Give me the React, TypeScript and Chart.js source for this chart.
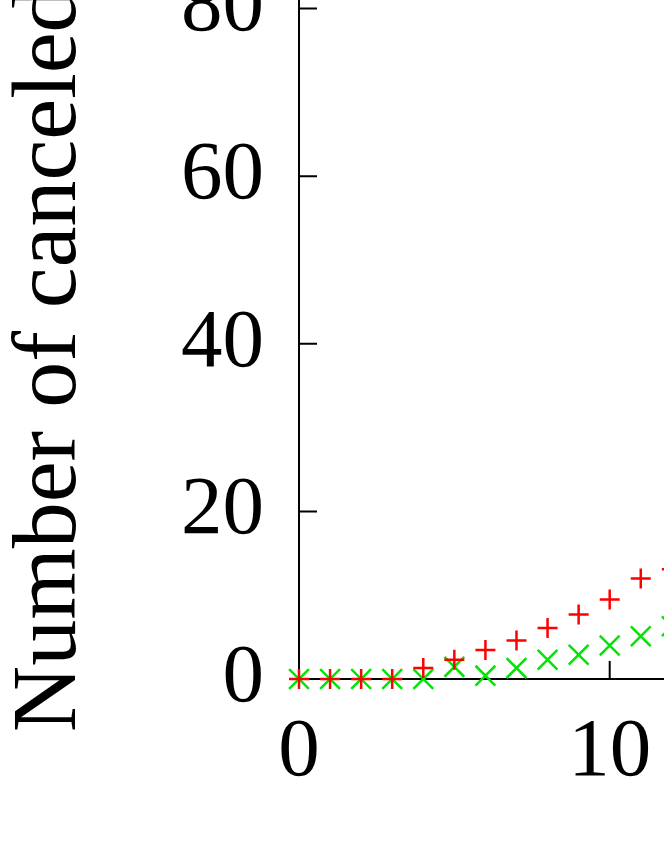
import React, { useEffect, useRef } from "react";
import { Chart, registerables } from "chart.js";

Chart.register(...registerables);

// ---- data ----
const xValues = [0, 1, 2, 3, 4, 5, 6, 7, 8, 9, 10, 11, 12];
const seriesA = [0, 0, 0, 0, 1.3, 2.3, 3.45, 4.6, 6.1, 7.7, 9.5, 12.0, 13.1];
const seriesB = [0, 0, 0, 0, 0, 1.45, 0.4, 1.3, 2.3, 2.9, 4.0, 5.1, 6.3];
const yTitle = "Number of canceled requests";
const xAxisMax = 30;
const yAxisMax = 115;
const xStep = 10;
const yStep = 20;

// ---- layout ----
const FONT = "'Liberation Serif', 'Times New Roman', serif";
const SHIFT_TOP = 340; // canvas is shifted up so the view is cropped like the reference
const CANVAS_W = 1300;
const CANVAS_H = SHIFT_TOP + 860;
const PLOT_LEFT = 299;
const PLOT_BOTTOM = 679;
const PX_PER_X = 31.07;
const PX_PER_Y = 8.38;
const TICK_LEN = 18;

const innerTicks = {
  id: "innerTicks",
  beforeDatasetsDraw(chart: any) {
    const { ctx, scales } = chart;
    const xs = scales.x;
    const ys = scales.y;
    ctx.save();
    ctx.strokeStyle = "#000";
    ctx.lineWidth = 2;
    ctx.beginPath();
    xs.ticks.forEach((t: any) => {
      const px = xs.getPixelForValue(t.value);
      ctx.moveTo(px, xs.top);
      ctx.lineTo(px, xs.top - TICK_LEN);
    });
    ys.ticks.forEach((t: any) => {
      const py = ys.getPixelForValue(t.value);
      ctx.moveTo(ys.right, py);
      ctx.lineTo(ys.right + TICK_LEN, py);
    });
    ctx.stroke();
    ctx.restore();
  },
};

export default function App() {
  const ref = useRef<HTMLCanvasElement | null>(null);

  useEffect(() => {
    if (!ref.current) return;
    const padTop = SHIFT_TOP + PLOT_BOTTOM - yAxisMax * PX_PER_Y;
    const padRight = CANVAS_W - PLOT_LEFT - xAxisMax * PX_PER_X;
    const chart = new Chart(ref.current, {
      type: "scatter",
      data: {
        datasets: [
          {
            label: "A",
            data: xValues.map((x, i) => ({ x, y: seriesA[i] })),
            pointStyle: "cross",
            pointRadius: 10,
            pointBorderWidth: 2.5,
            borderColor: "#ff0000",
            backgroundColor: "#ff0000",
          },
          {
            label: "B",
            data: xValues.map((x, i) => ({ x, y: seriesB[i] })),
            pointStyle: "crossRot",
            pointRadius: 14,
            pointBorderWidth: 2.5,
            borderColor: "#00e600",
            backgroundColor: "#00e600",
          },
        ],
      },
      options: {
        animation: false,
        responsive: false,
        devicePixelRatio: 1,
        events: [],
        clip: false,
        layout: { padding: { top: padTop, right: padRight, left: 0, bottom: 0 } },
        plugins: { legend: { display: false }, tooltip: { enabled: false } },
        scales: {
          x: {
            type: "linear",
            min: 0,
            max: xAxisMax,
            grid: { display: true, drawOnChartArea: false, drawTicks: false, color: "#000", lineWidth: 2 },
            border: { display: true, color: "#000", width: 2 },
            ticks: {
              stepSize: xStep,
              color: "#000",
              padding: 24,
              maxRotation: 0,
              font: { family: FONT, size: 83 },
            },
            afterFit: (s: any) => {
              s.height = CANVAS_H - SHIFT_TOP - PLOT_BOTTOM;
              s.paddingLeft = 0;
              s.paddingRight = 0;
            },
          },
          y: {
            type: "linear",
            min: 0,
            max: yAxisMax,
            grid: { display: true, drawOnChartArea: false, drawTicks: false, color: "#000", lineWidth: 2 },
            border: { display: true, color: "#000", width: 2 },
            ticks: {
              stepSize: yStep,
              color: "#000",
              padding: 35,
              font: { family: FONT, size: 83 },
            },
            afterBuildTicks: (s: any) => {
              s.ticks = s.ticks.filter((t: any) => t.value % yStep === 0);
            },
            title: {
              display: true,
              text: yTitle,
              color: "#000",
              padding: { top: 5, bottom: 0 },
              font: { family: FONT, size: 92, lineHeight: 1 },
            },
            afterFit: (s: any) => {
              s.width = PLOT_LEFT;
              s.paddingTop = 0;
              s.paddingBottom = 0;
            },
          },
        },
      },
      plugins: [innerTicks],
    });
    return () => chart.destroy();
  }, []);

  return (
    <div
      style={{
        position: "fixed",
        left: 0,
        top: 0,
        width: 664,
        height: 860,
        overflow: "hidden",
        background: "#fff",
      }}
    >
      <canvas
        ref={ref}
        width={CANVAS_W}
        height={CANVAS_H}
        style={{ position: "absolute", left: 0, top: -SHIFT_TOP, width: CANVAS_W, height: CANVAS_H }}
      />
    </div>
  );
}
